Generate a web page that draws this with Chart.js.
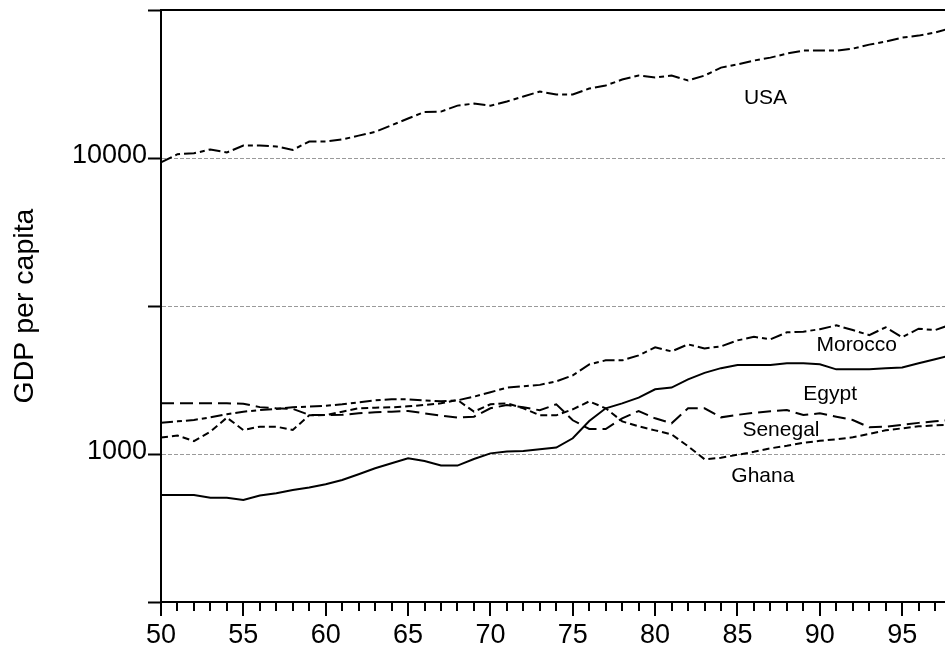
<!DOCTYPE html>
<html><head><meta charset="utf-8">
<script src="https://cdn.jsdelivr.net/npm/chart.js@4/dist/chart.umd.min.js"></script>
<style>html,body{margin:0;padding:0;background:#fff;overflow:hidden}#wrap{position:relative;width:945px;height:649px}</style>
</head><body><div id="wrap"><canvas id="c" width="945" height="649"></canvas></div>
<script>
const years = [50,51,52,53,54,55,56,57,58,59,60,61,62,63,64,65,66,67,68,69,70,71,72,73,74,75,76,77,78,79,80,81,82,83,84,85,86,87,88,89,90,91,92,93,94,95,96,97,98];
const usa = [9660,10300,10370,10690,10440,11020,11020,10940,10650,11370,11370,11550,11900,12250,12900,13600,14300,14350,15030,15270,15030,15520,16130,16770,16400,16380,17170,17570,18410,18990,18700,18990,18270,18990,20200,20700,21340,21830,22530,23060,23060,23060,23420,24160,24740,25510,25910,26530,27500];
const egypt = [727,727,727,712,712,699,724,737,756,770,790,817,854,895,930,967,947,914,914,962,1005,1019,1023,1037,1051,1130,1292,1427,1483,1550,1654,1676,1787,1880,1950,1998,1998,1998,2024,2024,2010,1932,1932,1932,1950,1960,2025,2090,2160];
const morocco = [1276,1289,1303,1330,1362,1390,1408,1420,1438,1446,1455,1472,1495,1518,1530,1530,1518,1506,1518,1562,1616,1676,1693,1712,1760,1844,2008,2072,2072,2154,2292,2222,2346,2274,2310,2420,2487,2439,2576,2590,2640,2720,2622,2522,2680,2480,2650,2622,2741];
const senegal = [1483,1483,1483,1483,1483,1478,1440,1427,1421,1356,1354,1356,1372,1383,1390,1397,1372,1348,1327,1337,1427,1464,1438,1405,1472,1300,1215,1215,1320,1397,1320,1270,1427,1427,1330,1356,1378,1394,1408,1354,1372,1337,1303,1231,1237,1255,1274,1289,1305];
const ghana = [1136,1154,1106,1190,1327,1205,1237,1237,1205,1351,1354,1390,1427,1434,1438,1449,1464,1483,1522,1390,1472,1483,1427,1351,1351,1416,1506,1427,1289,1240,1202,1165,1062,960,971,994,1017,1045,1066,1091,1108,1121,1139,1170,1202,1221,1240,1250,1255];
const xTickValues = [50,51,52,53,54,55,56,57,58,59,60,61,62,63,64,65,66,67,68,69,70,71,72,73,74,75,76,77,78,79,80,81,82,83,84,85,86,87,88,89,90,91,92,93,94,95,96,97];
const yTickValues = [316.2278,1000,3162.278,10000,31622.78];
const yTickLabels = ['','1000','','10000',''];
const yGridValues = [1000,3162.278,10000];
const seriesNames = ['USA','Morocco','Egypt','Senegal','Ghana'];
const labelYears = [86.7,92.24,90.63,87.64,86.54];
const labelValues = [15880,2332,1593,1205,841];

const FONT = 'Liberation Sans, Arial, sans-serif';
function pts(arr){ return years.map((x,i)=>({x:x, y:arr[i]})); }
function ds(name, arr, dash){
  return {label:name, data:pts(arr), borderColor:'#000', borderWidth:2, borderDash:dash, pointRadius:0, fill:false, tension:0};
}

const decor = {
  id:'decor',
  afterDraw(chart){
    const {ctx, chartArea:a, scales:{x,y}} = chart;
    ctx.save();
    ctx.strokeStyle='#000'; ctx.lineWidth=2;
    ctx.beginPath(); ctx.moveTo(a.left-1, a.top); ctx.lineTo(chart.width, a.top); ctx.stroke();
    xTickValues.forEach(v=>{
      const px = Math.round(x.getPixelForValue(v));
      const len = v%5===0 ? 14 : 9;
      ctx.beginPath(); ctx.moveTo(px, a.bottom); ctx.lineTo(px, a.bottom+len); ctx.stroke();
    });
    ctx.fillStyle='#000'; ctx.font='21px '+FONT; ctx.textAlign='center'; ctx.textBaseline='middle';
    seriesNames.forEach((n,i)=>{
      ctx.fillText(n, x.getPixelForValue(labelYears[i]), y.getPixelForValue(labelValues[i]));
    });
    ctx.restore();
  }
};

new Chart(document.getElementById('c'), {
  type:'line',
  data:{datasets:[
    ds('USA', usa, [12,4,5,4]),
    ds('Egypt', egypt, []),
    ds('Morocco', morocco, [12,4,5,4]),
    ds('Senegal', senegal, [13,6]),
    ds('Ghana', ghana, [7,4])
  ]},
  options:{
    responsive:false, animation:false, devicePixelRatio:1,
    layout:{padding:{top:10,right:0,bottom:0,left:0}},
    plugins:{legend:{display:false}, tooltip:{enabled:false}},
    scales:{
      x:{type:'linear', min:50, max:97.6,
        afterBuildTicks(s){ s.ticks = xTickValues.map(v=>({value:v})); },
        afterFit(s){ s.height=47; s.paddingLeft=0; s.paddingRight=0; },
        ticks:{autoSkip:false, maxRotation:0, minRotation:0, padding:3, color:'#000', font:{family:FONT, size:27},
          callback:(v)=> (v%5===0 ? String(v) : '')},
        grid:{drawOnChartArea:false, tickLength:14, tickColor:'rgba(0,0,0,0)'},
        border:{color:'#000', width:2}
      },
      y:{type:'logarithmic', min:316.2278, max:31622.78,
        afterBuildTicks(s){ s.ticks = yTickValues.map(v=>({value:v})); },
        afterFit(s){ s.width=161; s.paddingTop=0; s.paddingBottom=0; },
        ticks:{autoSkip:false, padding:1, labelOffset:-2, color:'#000', font:{family:FONT, size:27},
          callback:(v,i)=> yTickLabels[i]},
        grid:{color:(c)=> (c.tick && yGridValues.some(g=>Math.abs(g-c.tick.value)<1)) ? '#9a9a9a' : 'rgba(0,0,0,0)',
          lineWidth:1, tickColor:'#000', tickWidth:2, tickLength:13},
        border:{color:'#000', width:2, dash:[4,2]},
        title:{display:true, text:'GDP per capita', color:'#000', font:{family:FONT, size:28.5}, padding:{top:8,bottom:0}}
      }
    }
  },
  plugins:[decor]
});
</script></body></html>
